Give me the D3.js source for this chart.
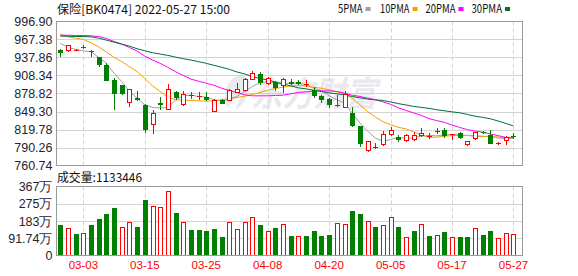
<!DOCTYPE html>
<html><head><meta charset="utf-8">
<script src="https://cdn.jsdelivr.net/npm/d3@7"></script>
<style>body{margin:0;background:#fff}svg{display:block}</style>
</head><body><svg id="c" width="578" height="276"></svg>
<script>
const dates=["02-28","03-01","03-02","03-03","03-04","03-07","03-08","03-09","03-10","03-11",
"03-14","03-15","03-16","03-17","03-18","03-21","03-22","03-23","03-24","03-25",
"03-28","03-29","03-30","03-31","04-01","04-06","04-07","04-08","04-11","04-12",
"04-13","04-14","04-15","04-18","04-19","04-20","04-21","04-22","04-25","04-26",
"04-27","04-28","04-29","05-05","05-06","05-09","05-10","05-11","05-12","05-13",
"05-16","05-17","05-18","05-19","05-20","05-23","05-24","05-25","05-26","05-27"];
const openP=[950.0,950.0,949.5,954.9,948.9,938.0,925.5,901.1,893.0,864.7,
871.7,860.3,827.2,863.6,853.3,881.5,860.3,875.0,873.4,872.9,
849.5,868.5,867.9,880.5,884.3,902.2,910.3,895.7,898.4,891.3,
897.3,897.8,892.4,884.8,874.0,869.6,858.5,856.6,846.8,825.0,
785.9,790.8,794.6,810.9,807.7,802.2,803.3,809.8,808.7,815.8,
819.6,811.5,814.2,795.7,804.4,816.3,811.5,795.7,801.1,809.3];
const highP=[951.1,957.5,952.2,958.7,949.5,938.0,928.3,903.8,893.5,886.4,
883.2,860.9,852.2,873.4,894.6,883.2,883.2,881.5,881.5,880.5,
870.1,870.1,885.9,896.8,903.8,916.3,914.1,906.5,900.0,903.8,
902.2,901.1,901.1,889.1,876.1,871.7,876.1,883.2,856.0,825.6,
801.1,797.9,816.9,823.4,811.4,813.1,816.3,822.9,814.2,821.8,
821.8,813.1,815.2,801.7,816.3,816.9,819.6,799.5,808.7,814.7];
const lowP=[939.1,946.7,948.4,952.2,939.1,922.8,899.5,851.1,876.0,856.0,
866.9,813.6,812.0,852.2,852.2,867.4,858.7,870.1,868.5,866.3,
847.8,860.9,866.3,879.4,880.5,901.1,893.0,892.4,882.6,879.4,
893.0,892.4,889.1,871.2,863.1,855.5,856.6,856.0,823.4,790.8,
782.7,787.0,792.4,808.7,799.0,800.0,801.1,807.7,804.4,812.0,
806.6,803.3,803.9,793.5,802.2,812.0,795.2,794.1,794.1,804.4];
const closeP=[945.7,957.1,950.5,955.4,946.2,926.1,900.0,877.2,877.8,884.8,
867.4,818.5,846.8,860.3,885.9,871.2,877.7,876.1,874.5,867.8,
867.0,861.4,884.3,885.9,902.2,912.0,895.7,903.8,887.5,901.1,
894.6,895.0,894.0,875.0,867.4,859.8,860.0,876.7,825.0,795.7,
800.0,791.9,810.9,818.5,802.2,810.4,809.8,812.5,809.8,816.9,
808.7,812.5,805.5,799.5,814.2,813.6,796.2,797.9,807.1,807.7];
const volume=[1610000,1450000,1130000,1160000,1610000,1930000,2200000,2520000,1500000,1750000,
1500000,2950000,2610000,2560000,3420000,2260000,1750000,1340000,1340000,1290000,
1400000,970000,1750000,1400000,1750000,2020000,1610000,1270000,1450000,1650000,
1020000,1020000,1020000,1290000,1020000,1070000,1700000,1650000,2360000,2200000,
1810000,1500000,1590000,2020000,1500000,970000,1290000,1650000,1020000,1070000,
1240000,970000,970000,970000,1450000,1070000,1290000,910000,1180000,1133446];
const ma5=[960.9,954.3,951.1,948.9,947.3,938.0,928.3,912.0,898.4,882.1,
871.2,860.3,856.0,854.9,856.0,868.0,875.0,876.1,874.0,872.9,
868.5,866.9,870.1,874.0,882.1,890.2,896.8,898.4,895.7,894.6,
896.0,895.7,893.0,887.5,883.7,875.0,868.5,863.1,846.8,830.5,
816.9,806.0,800.6,803.3,807.1,805.0,806.0,809.0,810.0,809.5,
811.0,811.5,811.0,810.0,808.6,808.1,809.1,805.8,804.3,805.8];
const ma10=[976.1,971.7,969.6,967.4,962.0,955.4,946.7,938.0,931.0,922.8,
914.7,903.3,891.3,882.1,872.9,868.5,868.0,867.4,866.9,866.3,
866.9,868.5,870.1,872.3,874.5,877.2,880.5,884.3,887.0,889.2,
891.3,891.9,891.3,889.1,887.5,884.8,881.5,878.3,871.2,860.3,
849.5,840.3,832.6,827.8,823.4,820.7,816.0,810.5,807.0,807.2,
808.7,809.8,809.8,809.8,809.8,808.7,807.7,807.7,806.0,806.0];
const ma20=[974.4,974.4,973.9,973.9,973.4,972.3,969.0,964.1,959.8,954.3,
948.4,940.2,933.7,928.3,921.7,914.5,908.5,902.4,899.0,895.7,
892.4,887.5,883.7,880.5,876.7,875.0,875.0,875.0,875.6,876.1,
878.3,880.5,881.5,882.6,883.2,883.2,882.1,879.4,876.1,874.0,
871.2,868.5,865.2,861.1,855.4,851.1,847.0,843.0,837.5,834.5,
831.5,827.2,823.2,819.6,817.2,815.2,812.5,809.8,806.8,807.0];
const ma30=[972.8,972.8,972.3,972.3,971.7,969.6,966.3,963.0,959.8,956.5,
952.2,948.9,945.7,943.5,941.3,938.5,935.9,933.7,931.0,928.3,
925.0,921.8,918.5,914.1,910.9,906.5,903.3,901.1,897.8,894.6,
891.3,888.1,886.4,884.3,882.1,879.9,878.3,876.7,874.0,871.8,
869.6,868.5,867.4,865.0,862.3,860.0,857.7,856.0,854.4,852.2,
850.5,848.7,847.3,844.5,841.6,839.7,837.3,833.7,829.8,825.6];
const priceTicks=[996.90,967.38,937.86,908.34,878.82,849.30,819.78,790.26,760.74];
const volTicks=[0,917400,1834800,2752200,3669600];
const volTickLabels=["0","91.74万","183万","275万","367万"];
const xTickDates=["03-03","03-15","03-25","04-08","04-20","05-05","05-17","05-27"];
const maNames=["5PMA","10PMA","20PMA","30PMA"];
const titleText="保险[BK0474] 2022-05-27 15:00";
const volTitle="成交量";

const UP="#ff0000", DOWN="#008000";
const maColors=["#a0a0a0","#f5a000","#ff00ff","#00703a"];
const L=56.5, R=522.5, T=21.5, B=165.5, VT=186.5, VB=255.5;
const svg=d3.select("#c");
const gridC="#d4d4d4", borderC="#9a9a9a";

const x=d3.scaleBand().domain(dates).range([L, L+60*7.68]).paddingInner(0.35).paddingOuter(0.175);
const xc=d=>x(d)+x.bandwidth()/2;
const y=d3.scaleLinear().domain([760.74,996.90]).range([B,T]);
const yv=d3.scaleLinear().domain([0,3669600]).range([VB,VT]);

// watermark
const wm=svg.append("g").attr("fill","#e9e9ee");
wm.append("path").attr("d","M236,76 C226,82 222,96 228,108 C232,100 238,94 246,92 C240,98 236,104 236,110 C244,104 250,94 250,84 C250,78 244,74 236,76 Z");
wm.append("text").attr("x",251).attr("y",106).attr("font-family","Noto Sans CJK SC").attr("font-weight","bold")
  .attr("font-style","italic").attr("font-size",34).attr("textLength",126).attr("lengthAdjust","spacingAndGlyphs").text("东方财富");

// horizontal grids main
const gm=svg.append("g");
gm.selectAll("line.h").data(priceTicks.slice(1,-1)).join("line")
  .attr("x1",L).attr("x2",R).attr("y1",d=>Math.round(y(d))+0.5).attr("y2",d=>Math.round(y(d))+0.5)
  .attr("stroke",gridC).attr("stroke-width",1);
gm.selectAll("line.v").data(xTickDates).join("line")
  .attr("x1",d=>Math.round(xc(d))+0.5).attr("x2",d=>Math.round(xc(d))+0.5).attr("y1",T).attr("y2",B)
  .attr("stroke",gridC).attr("stroke-dasharray","4,3");
// volume grids
const gv=svg.append("g");
gv.selectAll("line").data(volTicks.slice(1,-1)).join("line")
  .attr("x1",L).attr("x2",R).attr("y1",d=>Math.round(yv(d))+0.5).attr("y2",d=>Math.round(yv(d))+0.5)
  .attr("stroke",gridC);
gv.selectAll("line.v").data(xTickDates).join("line")
  .attr("x1",d=>Math.round(xc(d))+0.5).attr("x2",d=>Math.round(xc(d))+0.5).attr("y1",VT).attr("y2",VB)
  .attr("stroke",gridC).attr("stroke-dasharray","4,3");

// MA lines
const mas=[ma5,ma10,ma20,ma30];
mas.forEach((arr,k)=>{
  const line=d3.line().x((d,i)=>xc(dates[i])).y(d=>y(d));
  svg.append("path").attr("d",line(arr)).attr("fill","none").attr("stroke",maColors[k]).attr("stroke-width",1);
});

// candles
const idx=d3.range(dates.length);
const cg=svg.append("g").attr("shape-rendering","crispEdges");
idx.forEach(i=>{
  const up=closeP[i]>=openP[i];
  const col=up?UP:DOWN;
  const cx=Math.round(xc(dates[i]))+0.5;
  cg.append("line").attr("x1",cx).attr("x2",cx).attr("y1",y(highP[i])).attr("y2",y(lowP[i])).attr("stroke",col);
  const top=y(Math.max(openP[i],closeP[i])), bot=y(Math.min(openP[i],closeP[i]));
  const h=bot-top;
  if(h<1.5){
    cg.append("line").attr("x1",cx-2.5).attr("x2",cx+2.5).attr("y1",Math.round(top)+0.5).attr("y2",Math.round(top)+0.5).attr("stroke",col);
  } else if(up){
    cg.append("rect").attr("x",cx-2).attr("y",top).attr("width",4).attr("height",h).attr("fill","#fff").attr("stroke",col);
  } else {
    cg.append("rect").attr("x",cx-2.5).attr("y",top).attr("width",5).attr("height",h).attr("fill",col);
  }
});

// volume bars (colour by close vs previous close)
const vg=svg.append("g").attr("shape-rendering","crispEdges");
idx.forEach(i=>{
  const up=i>0?closeP[i]>=closeP[i-1]:closeP[i]>=openP[i];
  const cx=Math.round(xc(dates[i]))+0.5;
  const top=yv(volume[i]);
  if(up){
    vg.append("rect").attr("x",cx-2).attr("y",top).attr("width",4).attr("height",VB-top).attr("fill","#fff").attr("stroke",UP);
  } else {
    vg.append("rect").attr("x",cx-2.5).attr("y",top).attr("width",5).attr("height",VB-top).attr("fill",DOWN);
  }
});

// borders
svg.append("rect").attr("x",L).attr("y",T).attr("width",R-L).attr("height",B-T).attr("fill","none").attr("stroke",borderC);
svg.append("rect").attr("x",L).attr("y",VT).attr("width",R-L).attr("height",VB-VT).attr("fill","none").attr("stroke",borderC);

// y axis labels
const axM=d3.axisLeft(y).tickValues(priceTicks).tickFormat(d3.format(".2f")).tickSize(0).tickPadding(4);
const gAx=svg.append("g").attr("transform",`translate(${L},0)`).call(axM);
gAx.select(".domain").remove();
gAx.selectAll("text").attr("font-family","Liberation Sans, Arial").attr("font-size",12.5).attr("fill","#1f2430");
const axV=d3.axisLeft(yv).tickValues(volTicks).tickFormat((d,i)=>volTickLabels[i]).tickSize(0).tickPadding(4);
const gAv=svg.append("g").attr("transform",`translate(${L},0)`).call(axV);
gAv.select(".domain").remove();
gAv.selectAll("text").attr("font-family","Liberation Sans, Arial").attr("font-size",12.5).attr("fill","#1f2430");

// x axis labels
const axX=d3.axisBottom(x).tickValues(xTickDates).tickSize(0).tickPadding(5);
const gx=svg.append("g").attr("transform",`translate(0,${VB})`).call(axX);
gx.select(".domain").remove();
gx.selectAll("text").attr("font-family","Liberation Sans, Arial").attr("font-size",11.5).attr("fill","#ff0000");

// title
svg.append("text").attr("x",57).attr("y",14).attr("font-family","Noto Sans CJK SC").attr("font-size",12)
  .attr("fill","#111").attr("textLength",173).attr("lengthAdjust","spacingAndGlyphs").text(titleText);
// legend
const legX=[338,380,425.5,471.5], legW=[24.5,29.5,30,30.5];
maNames.forEach((n,k)=>{
  svg.append("text").attr("x",legX[k]).attr("y",13).attr("font-family","Noto Sans CJK SC").attr("font-size",12)
    .attr("fill","#111").attr("textLength",legW[k]).attr("lengthAdjust","spacingAndGlyphs").text(n);
  svg.append("rect").attr("x",legX[k]+legW[k]+3).attr("y",7).attr("width",5).attr("height",4).attr("fill",maColors[k]);
});
// volume title
svg.append("text").attr("x",57).attr("y",182).attr("font-family","Noto Sans CJK SC").attr("font-size",12)
  .attr("fill","#111").attr("textLength",85).attr("lengthAdjust","spacingAndGlyphs")
  .text(volTitle+":"+volume[volume.length-1]);
</script></body></html>
